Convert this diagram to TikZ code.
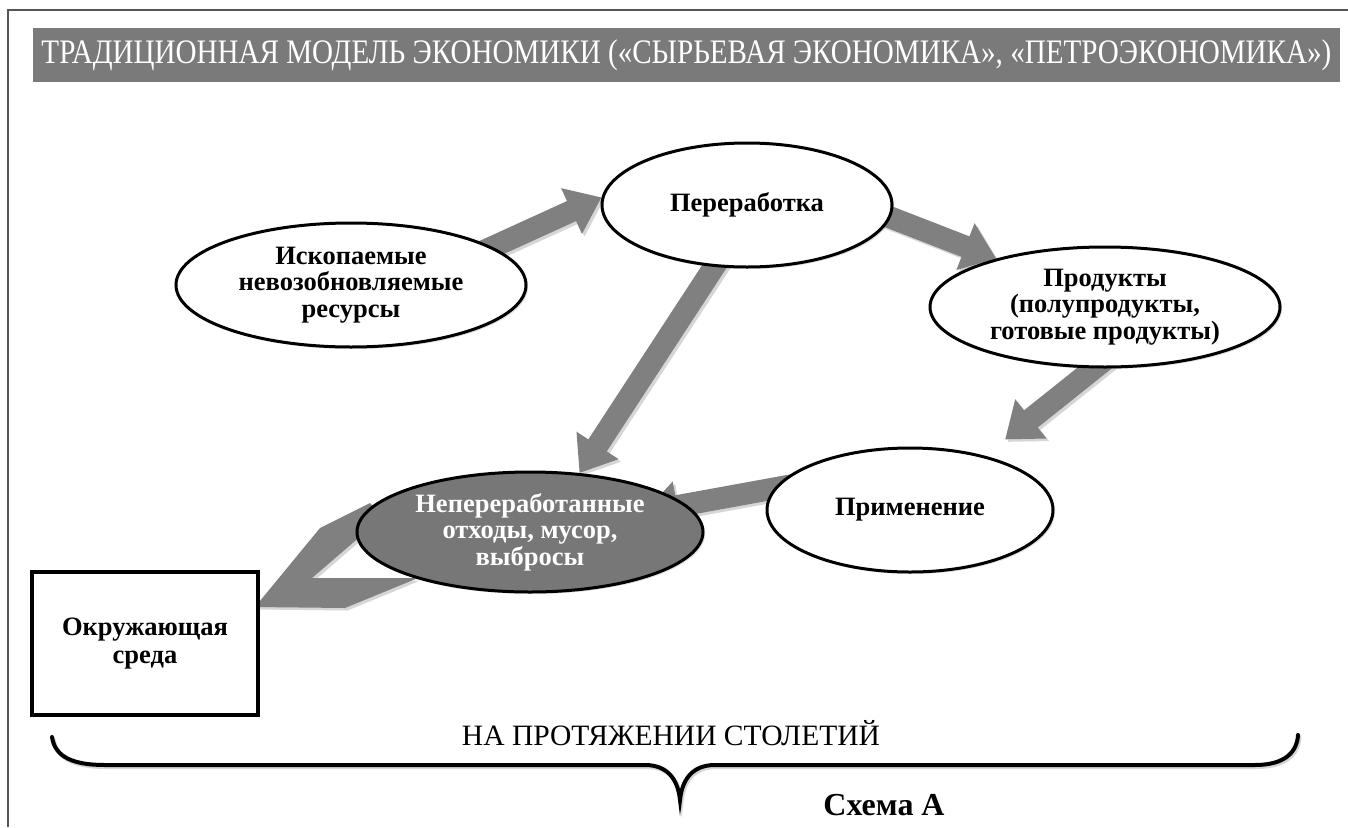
\documentclass[tikz,border=0pt]{standalone}
\usepackage{fontspec}
\setmainfont{Liberation Serif}
\newfontfamily\tnr{Liberation Serif}
\usetikzlibrary{shapes.geometric,arrows.meta,shadows}
\definecolor{bargray}{HTML}{7A7A7A}
\definecolor{arrowgray}{HTML}{808080}
\definecolor{wastegray}{HTML}{777777}
\definecolor{framegray}{HTML}{555555}
\definecolor{shadowgray}{HTML}{D6D6D6}
\pgfdeclarelayer{bg}
\pgfsetlayers{bg,main}
\begin{document}
\begin{tikzpicture}[x=1pt,y=-1pt,
  oval/.style={ellipse, draw=black, line width=3pt, fill=white, inner sep=0pt, align=center,
    font=\tnr\fontsize{26.5}{26.5}\selectfont\bfseries,
    drop shadow={opacity=0.25,shadow xshift=2pt,shadow yshift=-2pt}},
  garrow/.style={draw=arrowgray, line width=22pt, -{Triangle[width=48pt,length=33pt]}, shorten <=-25pt},
  gshadow/.style={draw=shadowgray, line width=22pt, -{Triangle[width=48pt,length=33pt]}, shorten <=-25pt,
    transform canvas={shift={(2.5pt,-2.5pt)}}}
]
\useasboundingbox (0,0) rectangle (1348,827);
% frame
\draw[framegray, line width=1.2pt] (8,827) -- (8,10) -- (1348,10);
% title
\node[fill=bargray, text=white, minimum width=1307pt, minimum height=54pt, inner sep=0pt] (title) at (686.5,55)
  {\scalebox{1}[1.18]{\resizebox{1290pt}{!}{\tnr\fontsize{29}{29}\selectfont ТРАДИЦИОННАЯ МОДЕЛЬ ЭКОНОМИКИ («СЫРЬЕВАЯ ЭКОНОМИКА», «ПЕТРОЭКОНОМИКА»)}}};
% nodes
\node[oval, minimum width=350pt, minimum height=124pt] (res) at (351,285) {Ископаемые\\невозобновляемые\\ресурсы};
\node[oval, minimum width=290pt, minimum height=124pt] (proc) at (747,205) {Переработка};
\node[oval, minimum width=350pt, minimum height=120pt] (prod) at (1105,307) {Продукты\\(полупродукты,\\готовые продукты)};
\node[oval, minimum width=286pt, minimum height=124pt] (use) at (910,510) {Применение};
\node[oval, fill=wastegray, text=white, minimum width=346pt, minimum height=120pt] (waste) at (530,532) {Непереработанные\\отходы, мусор,\\выбросы};
\node[draw=black, fill=white, line width=3.5pt, minimum width=226pt, minimum height=143pt, inner sep=0pt, align=center,
  font=\tnr\fontsize{26.5}{28}\selectfont\bfseries, drop shadow={opacity=0.25,shadow xshift=2pt,shadow yshift=-2pt}] (env) at (145,643.5) {Окружающая\\среда};
% arrows
\begin{pgfonlayer}{bg}
  \fill[white] (0,0) rectangle (1348,827);
  \draw[gshadow] (res.15) -- (proc.177);
  \draw[gshadow] (proc.-5) -- (prod.156);
  \draw[gshadow, shorten >=26pt] (prod.-100) -- (use.36);
  \draw[gshadow] (proc.-118) -- (waste.50);
  \draw[gshadow, shorten >=-42pt] (use.171) -- (waste.10);
  \fill[shadowgray, transform canvas={shift={(2.5pt,-2.5pt)}}] (255,607) -- (320,528) -- (370,503) -- (385,520) -- (362,535) -- (312,578) -- (418,578) -- (345,608) -- cycle;
  \draw[garrow] (res.15) -- (proc.177);
  \draw[garrow] (proc.-5) -- (prod.156);
  \draw[garrow, shorten >=26pt] (prod.-100) -- (use.36);
  \draw[garrow] (proc.-118) -- (waste.50);
  \draw[garrow, shorten >=-42pt] (use.171) -- (waste.10);
  \fill[arrowgray] (255,607) -- (320,528) -- (370,503) -- (385,520) -- (362,535) -- (312,578) -- (418,578) -- (345,608) -- cycle;
\end{pgfonlayer}
% brace
\draw[shadowgray, line width=4pt, line cap=round, transform canvas={shift={(1.5pt,-2pt)}}] (52,737) .. controls (55,758) and (75,765) .. (105,765) -- (645,765) .. controls (668,765) and (678,780) .. (680,800) .. controls (682,780) and (692,765) .. (715,765) -- (1255,765) .. controls (1285,765) and (1297,752) .. (1298,735);
\draw[black, line width=4pt, line cap=round] (52,737) .. controls (55,758) and (75,765) .. (105,765) -- (645,765) .. controls (668,765) and (678,780) .. (680,800) .. controls (682,780) and (692,765) .. (715,765) -- (1255,765) .. controls (1285,765) and (1297,752) .. (1298,735);
% labels
\node[font=\tnr\fontsize{28}{28}\selectfont] (period) at (671,733) {\resizebox{418pt}{!}{НА ПРОТЯЖЕНИИ СТОЛЕТИЙ}};
\node[font=\tnr\fontsize{32}{32}\selectfont\bfseries] (caption) at (884,805) {Схема А};
\end{tikzpicture}
\end{document}
